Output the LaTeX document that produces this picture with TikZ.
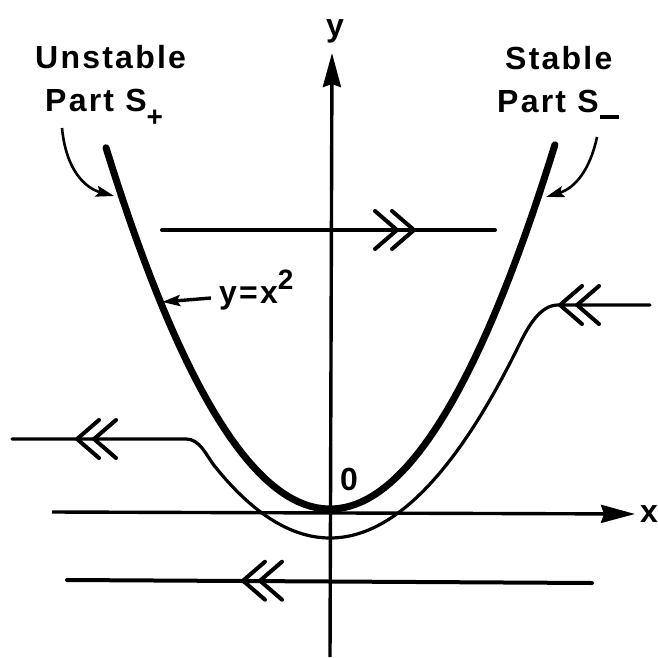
\documentclass[tikz,border=0pt]{standalone}
\usepackage{fontspec}
\newfontfamily\labfont{Liberation Sans}[LetterSpace=7]
\usetikzlibrary{arrows.meta}
\tikzset{
  thickc/.style={line width=7pt, line cap=round},
  flow/.style={line width=4pt, line cap=round, line join=round},
  thinc/.style={line width=3.2pt, line cap=round, line join=round},
  axisline/.style={line width=3.4pt, -{Stealth[length=34pt,width=18pt,inset=3pt]}},
  lab/.style={inner sep=0pt, anchor=base west, font=\labfont\bfseries\fontsize{32}{36}\selectfont},
  labarrow/.style={line width=2.6pt, -{Stealth[length=18pt,width=11pt,inset=3pt]}},
  dchevl/.pic={\draw[flow] (22,-19) -- (0,0) -- (22,19); \draw[flow] (39,-19) -- (17,0) -- (39,19);},
  dchevr/.pic={\draw[flow] (-22,-19) -- (0,0) -- (-22,19); \draw[flow] (-39,-19) -- (-17,0) -- (-39,19);}
}
\begin{document}
\begin{tikzpicture}[x=1pt,y=-1pt]
\useasboundingbox (0,0) rectangle (657,658);
% coordinates
\coordinate (xs) at (52,512);
\coordinate (xe) at (635,514);
\coordinate (ys) at (330,657);
\coordinate (ye) at (332,53);
% axes
\draw[axisline] (xs) -- (xe);
\draw[axisline] (ys) -- (ye);
\node[lab] (xl) at (640,522) {x};
\node[lab] (yl) at (326,37) {y};
\node[lab] (zero) at (340,490) {0};
% thick parabola y = x^2
\draw[thickc] plot[domain=-2.24:2.25, samples=80] ({330+100*\x},{509-72*(\x)*(\x)});
% thin trajectory
\draw[thinc] (12,439) -- (186,439) .. controls (200,439) and (206,455) .. (214,465.3)
  -- plot[domain=-1.16:1.90, samples=70] ({330+100*\x},{538-54*(\x)*(\x)})
  .. controls (528,327) and (540,305) .. (558,305) -- (650,305);
% horizontal flows
\coordinate (t1) at (162,230);
\coordinate (t2) at (495,230);
\draw[flow] (t1) -- (t2);
\pic at (414,230) {dchevr};
\coordinate (b1) at (67,580);
\coordinate (b2) at (592,583);
\draw[flow] (b1) -- (b2);
\pic at (243,580.7) {dchevl};
\pic at (77,439) {dchevl};
\pic at (560,305) {dchevl};
% labels
\node[lab] (unst) at (35,69) {Unstable};
\node[lab] (partp) at (45,112) {Part S\raisebox{-15pt}{\fontsize{28}{28}\selectfont +}};
\node[lab] (stab) at (505,70) {Stable};
\node[lab] (partm) at (497,113) {Part S\kern1pt\rule[-6pt]{19pt}{4pt}};
\node[lab] (eq) at (219,303) {y=x\raisebox{14pt}{\fontsize{28}{28}\selectfont 2}};
% label arrows
\coordinate (la) at (62,128);
\coordinate (lat) at (114,196);
\coordinate (ra) at (597,137);
\coordinate (rat) at (546,197);
\coordinate (ea) at (211,298);
\coordinate (eat) at (162,302);
\draw[labarrow] (la) .. controls (66,170) and (85,188) .. (lat);
\draw[labarrow] (ra) .. controls (590,170) and (575,188) .. (rat);
\draw[labarrow, line width=3.4pt] (ea) -- (eat);
\end{tikzpicture}
\end{document}
